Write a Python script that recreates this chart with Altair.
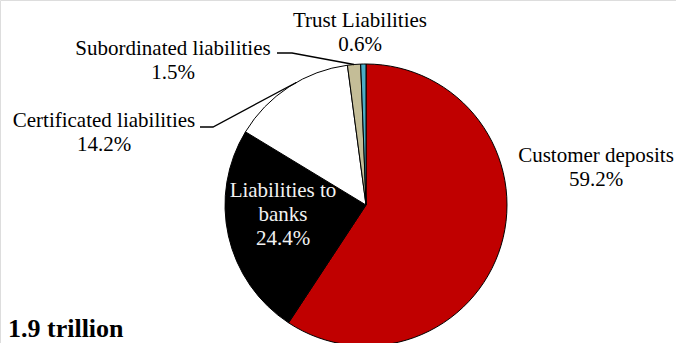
import math
import altair as alt
import pandas as pd

# ---- data ----
categories = ["Customer deposits", "Liabilities to banks", "Certificated liabilities",
              "Subordinated liabilities", "Trust Liabilities"]
shares = [59.2, 24.4, 14.2, 1.5, 0.6]
label_names = ["Customer deposits", "Liabilities to\nbanks", "Certificated liabilities",
               "Subordinated liabilities", "Trust Liabilities"]
total_label = "1.9 trillion"

# ---- styling / layout ----
colors = ["#C00000", "#000000", "#FFFFFF", "#C4BD97", "#4BACC6"]
text_colors = ["black", "#F2F2F2", "black", "black", "black"]
W, H = 676, 343
CX, CY, R = 366, 205, 141
FONT = "'Liberation Serif', 'Times New Roman', Times, 'DejaVu Serif', serif"
# label anchor (center x, first baseline y)
label_x = [596, 283, 104, 173, 360]
label_y = [162, 197, 127, 55, 27]
# leader elbows for the labels that need one (None = no leader)
leader_start = [None, None, (200, 127), (277, 53), None]
leader_elbow = [None, None, (213, 127), (292, 53), None]

df = pd.DataFrame({"category": categories, "value": shares, "idx": range(len(categories))})

pie = alt.Chart(df).mark_arc(radius=R, stroke="black", strokeWidth=1).encode(
    theta=alt.Theta("value:Q", stack=True),
    color=alt.Color("category:N", scale=alt.Scale(domain=categories, range=colors), legend=None),
    order=alt.Order("idx:Q"),
    x=alt.value(CX),
    y=alt.value(CY),
)

lab = pd.DataFrame({
    "text": [f"{n}\n{v:.1f}%" for n, v in zip(label_names, shares)],
    "lx": label_x, "ly": label_y, "tc": text_colors,
})
labels = alt.Chart(lab).mark_text(
    font=FONT, fontSize=21, align="center", baseline="alphabetic",
    lineBreak="\n", lineHeight=24,
).encode(
    x=alt.X("lx:Q", scale=None), y=alt.Y("ly:Q", scale=None),
    text="text:N", color=alt.Color("tc:N", scale=None),
)

# leader lines: end on slice edge at its mid angle
rows = []
cum = 0.0
tot = sum(shares)
for i, v in enumerate(shares):
    mid = (cum + v / 2) / tot * 2 * math.pi
    cum += v
    if leader_start[i] is None:
        continue
    if i == 2:
        mid += math.radians(3.5)
    ex, ey = CX + R * math.sin(mid), CY - R * math.cos(mid)
    for k, (px, py) in enumerate([leader_start[i], leader_elbow[i], (ex, ey)]):
        rows.append({"g": i, "k": k, "px": px, "py": py})
lead = alt.Chart(pd.DataFrame(rows)).mark_line(color="black", strokeWidth=1.3).encode(
    x=alt.X("px:Q", scale=None), y=alt.Y("py:Q", scale=None),
    detail="g:N", order="k:Q",
)

tot_txt = alt.Chart(pd.DataFrame({"t": [total_label]})).mark_text(
    font=FONT, fontSize=26, fontWeight="bold", align="left", baseline="alphabetic",
).encode(x=alt.value(8), y=alt.value(337), text="t:N")

chart = alt.layer(pie, lead, labels, tot_txt).properties(
    width=W, height=H, autosize=alt.AutoSizeParams(type="none"), padding=0,
).configure_view(stroke=None).configure(background="white")

chart.save("out.html", embed_options={"renderer": "svg", "actions": False})
